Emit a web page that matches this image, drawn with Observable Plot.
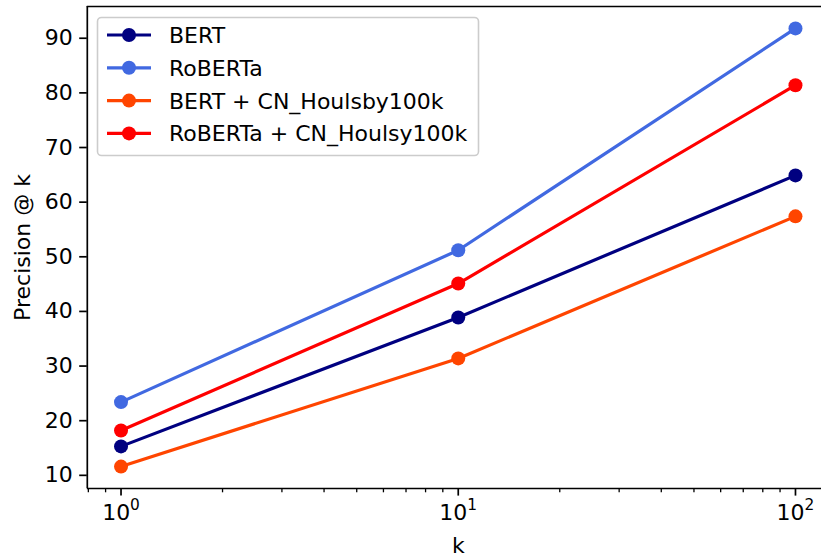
<!DOCTYPE html>
<html>
<head>
<meta charset="utf-8">
<script src="https://cdn.jsdelivr.net/npm/d3@7"></script>
<script src="https://cdn.jsdelivr.net/npm/@observablehq/plot@0.6"></script>
<style>
  html, body { margin: 0; padding: 0; background: white; }
  #chart { position: relative; width: 821px; height: 559px; overflow: hidden; }
</style>
</head>
<body>
<div id="chart"></div>
<script>
// ---- data ----
const kValues = [1, 10, 100];
const seriesNames = ["BERT", "RoBERTa", "BERT + CN_Houlsby100k", "RoBERTa + CN_Houlsy100k"];
const seriesColors = ["#000080", "#4169E1", "#FF4500", "#FF0000"];
const bert = [15.3, 38.9, 64.9];
const roberta = [23.4, 51.2, 91.8];
const bertCN = [11.6, 31.4, 57.4];
const robertaCN = [18.2, 45.1, 81.4];
const seriesValues = [bert, roberta, bertCN, robertaCN];
const yTicks = [10, 20, 30, 40, 50, 60, 70, 80, 90];
const xMajorTicks = [1, 10, 100];
const yLabel = "Precision @ k";
const xLabel = "k";

// long table
const rows = seriesNames.flatMap((name, i) =>
  kValues.map((k, j) => ({series: name, k, value: seriesValues[i][j]})));

const xMinorTicks = [0.1, 1, 10].flatMap(d => [2,3,4,5,6,7,8,9].map(m => d * m))
  .filter(v => v >= 10 ** -0.1 && v <= 10 ** 2.1);

const FONT = 22;
const marks = [
  Plot.ruleX([10 ** -0.1], {stroke: "black", strokeWidth: 1.7}),
  Plot.ruleY([7.59], {stroke: "black", strokeWidth: 1.7}),
  Plot.ruleY([95.81], {stroke: "black", strokeWidth: 1.7}),
  Plot.axisY({ticks: yTicks, tickSize: 7.6, tickPadding: 7, strokeWidth: 1.7,
    tickFormat: d => String(d), label: yLabel, labelArrow: "none", labelAnchor: "center", labelOffset: 73}),
  Plot.axisX({ticks: xMinorTicks, tickSize: 4.3, strokeWidth: 1.3, tickFormat: () => "", label: null}),
  Plot.axisX({ticks: xMajorTicks, tickSize: 7.6, tickPadding: 8, strokeWidth: 1.7,
    tickFormat: d => `10^${Math.round(Math.log10(d))}`, label: xLabel, labelArrow: "none", labelAnchor: "center", labelOffset: 64}),
];
seriesNames.forEach(name => {
  const data = rows.filter(r => r.series === name);
  marks.push(Plot.line(data, {x: "k", y: "value", stroke: "series", strokeWidth: 3.2}));
  marks.push(Plot.dot(data, {x: "k", y: "value", fill: "series", r: 7}));
});

const chart = Plot.plot({
  width: 821,
  height: 559,
  marginLeft: 86.8,
  marginRight: -7.7,
  marginTop: 6,
  marginBottom: 71,
  style: {fontFamily: "DejaVu Sans", fontSize: FONT + "px", color: "black", background: "white", overflow: "hidden"},
  x: {type: "log", domain: [10 ** -0.1, 10 ** 2.1]},
  y: {domain: [7.59, 95.81]},
  color: {domain: seriesNames, range: seriesColors},
  marks
});

// remove any arrow characters Plot may add to axis labels
d3.select(chart).selectAll("text").each(function() {
  const t = this.textContent;
  if (t.includes("→") || t.includes("↑")) {
    d3.select(this).text(t.replace(/\s*[→↑]\s*/g, "").trim());
  }
});

// superscript exponents on x tick labels
d3.select(chart).selectAll("text").each(function() {
  const t = this.textContent;
  const m = /^10\^(\d+)$/.exec(t);
  if (m) {
    const sel = d3.select(this);
    sel.text("10");
    sel.append("tspan").attr("font-size", "70%").attr("dy", "-0.6em").text(m[1]);
  }
});

// legend
const svg = d3.select(chart);
const lg = svg.append("g").attr("font-family", "DejaVu Sans").attr("font-size", FONT)
  .attr("text-anchor", "start");
lg.append("rect").attr("x", 97.5).attr("y", 17.5).attr("width", 381).attr("height", 138)
  .attr("rx", 4).attr("fill", "white").attr("fill-opacity", 0.8)
  .attr("stroke", "#cccccc").attr("stroke-width", 1.6);
seriesNames.forEach((name, i) => {
  const cy = 35 + i * 32.8;
  lg.append("line").attr("x1", 107).attr("x2", 151).attr("y1", cy).attr("y2", cy)
    .attr("stroke", seriesColors[i]).attr("stroke-width", 3.2);
  lg.append("circle").attr("cx", 129).attr("cy", cy).attr("r", 7).attr("fill", seriesColors[i]);
  lg.append("text").attr("x", 169).attr("y", cy).attr("dy", "0.365em").attr("fill", "black")
    .attr("text-anchor", "start").text(name);
});

document.getElementById("chart").appendChild(chart);
</script>
</body>
</html>
